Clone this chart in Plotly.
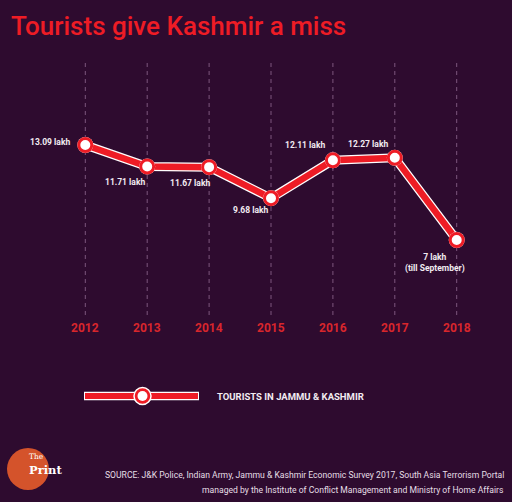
import plotly.graph_objects as go

years = [2012, 2013, 2014, 2015, 2016, 2017, 2018]
year_labels = ["2012", "2013", "2014", "2015", "2016", "2017", "2018"]
tourists_lakh = [13.09, 11.71, 11.67, 9.68, 12.11, 12.27, 7.0]
value_labels = ["13.09 lakh", "11.71 lakh", "11.67 lakh", "9.68 lakh",
                "12.11 lakh", "12.27 lakh", "7 lakh<br>(till September)"]
series_name = "TOURISTS IN JAMMU & KASHMIR"

BG = "#2e0b2f"
RED = "#ee1c25"
COND = "Roboto, sans-serif"

fig = go.Figure()

# white outline under the line
fig.add_trace(go.Scatter(x=years, y=tourists_lakh, mode="lines",
                         line=dict(color="white", width=9), hoverinfo="skip", showlegend=False))
fig.add_trace(go.Scatter(x=years, y=tourists_lakh, mode="lines",
                         line=dict(color=RED, width=6.5), hoverinfo="skip", showlegend=False))
fig.add_trace(go.Scatter(x=years, y=tourists_lakh, mode="markers",
                         marker=dict(size=16, color="white"), hoverinfo="skip", showlegend=False))
fig.add_trace(go.Scatter(x=years, y=tourists_lakh, mode="markers", name=series_name,
                         marker=dict(size=13, color="white", line=dict(color=RED, width=3)),
                         showlegend=False))

# dashed vertical gridlines
for yr in years:
    fig.add_shape(type="line", xref="x", yref="paper", x0=yr, x1=yr, y0=1 - 315 / 502, y1=1 - 60 / 502,
                  line=dict(color="rgba(190,150,190,0.55)", width=1, dash="4px,4px"), layer="below")

# value labels: (xshift, yshift, align)
offsets = [(-35, 3, "right"), (-22, -15, "center"), (-19, -16, "center"), (-20, -12, "center"),
           (-28, 15, "center"), (-27, 14, "center"), (-22, -23, "center")]
for yr, v, lab, (dx, dy, al) in zip(years, tourists_lakh, value_labels, offsets):
    fig.add_annotation(x=yr, y=v, xref="x", yref="y", text=lab, showarrow=False,
                       xshift=dx, yshift=dy, align=al,
                       font=dict(family=COND, size=8.5, color="#f2ecf2", weight="bold"))

# year labels
for yr, lab in zip(years, year_labels):
    fig.add_annotation(x=yr, y=1 - 337 / 502, xref="x", yref="paper", text=lab, showarrow=False,
                       font=dict(family=COND, size=12, color="#d8262c", weight="bold"))

# title
fig.add_annotation(x=9 / 512, y=1 - 26 / 502, xref="paper", yref="paper", xanchor="left", yanchor="middle",
                   text="Tourists give Kashmir a miss", showarrow=False,
                   font=dict(family=COND, size=26, color=RED, weight=500))

# legend (drawn)
fig.add_shape(type="line", xref="paper", yref="paper", x0=84 / 512, x1=199 / 512,
              y0=1 - 396 / 502, y1=1 - 396 / 502, line=dict(color="white", width=8.5))
fig.add_shape(type="line", xref="paper", yref="paper", x0=85 / 512, x1=198 / 512,
              y0=1 - 396 / 502, y1=1 - 396 / 502, line=dict(color=RED, width=6))
fig.add_shape(type="circle", xref="paper", yref="paper", x0=134 / 512, x1=151 / 512,
              y0=1 - 404.5 / 502, y1=1 - 387.5 / 502, fillcolor=RED, line=dict(color="white", width=1.5))
fig.add_shape(type="circle", xref="paper", yref="paper", x0=137.5 / 512, x1=147.5 / 512,
              y0=1 - 401 / 502, y1=1 - 391 / 502, fillcolor="white", line=dict(width=0))
fig.add_annotation(x=215 / 512, y=1 - 396 / 502, xref="paper", yref="paper", xanchor="left", yanchor="middle",
                   text=series_name, showarrow=False,
                   font=dict(family=COND, size=9.5, color="#f2ecf2", weight="bold"))

# logo
fig.add_shape(type="circle", xref="paper", yref="paper", x0=7 / 512, x1=49 / 512,
              y0=1 - 490 / 502, y1=1 - 448 / 502, fillcolor="#d4532b", line=dict(width=0))
fig.add_annotation(x=28 / 512, y=1 - 462 / 502, xref="paper", yref="paper", yanchor="bottom",
                   text="The", showarrow=False, borderpad=0,
                   font=dict(family="DejaVu Serif, serif", size=7.5, color="white"))
fig.add_annotation(x=28 / 512, y=1 - 462 / 502, xref="paper", yref="paper", yanchor="top",
                   text="<b>Print</b>", showarrow=False, borderpad=0,
                   font=dict(family="DejaVu Serif, serif", size=11.5, color="white"))

# source
fig.add_annotation(x=506 / 512, y=1 - 475 / 502, xref="paper", yref="paper", xanchor="right", yanchor="middle",
                   text="SOURCE: J&K Police, Indian Army, Jammu & Kashmir Economic Survey 2017, South Asia Terrorism Portal",
                   showarrow=False, font=dict(family=COND, size=8.6, color="#e6dfe6"))
fig.add_annotation(x=506 / 512, y=1 - 490 / 502, xref="paper", yref="paper", xanchor="right", yanchor="middle",
                   text="managed by the Institute of Conflict Management and Ministry of Home Affairs",
                   showarrow=False, font=dict(family=COND, size=8.6, color="#e6dfe6"))

px_per_year = (456.7 - 85.3) / 6
px_per_lakh = 15.6
fig.update_layout(
    width=512, height=502,
    margin=dict(l=0, r=0, t=0, b=0),
    paper_bgcolor=BG, plot_bgcolor=BG,
    xaxis=dict(range=[2012 - 85.3 / px_per_year, 2018 + (512 - 456.7) / px_per_year],
               visible=False, showgrid=False, zeroline=False, fixedrange=True),
    yaxis=dict(range=[13.09 - (502 - 145) / px_per_lakh, 13.09 + 145 / px_per_lakh],
               visible=False, showgrid=False, zeroline=False, fixedrange=True),
    showlegend=False,
)

fig.write_html("out.html", config={"displayModeBar": False},
               post_script="document.body.style.margin='0';document.body.style.padding='0';"
                           "document.body.style.overflow='hidden';document.body.style.background='" + BG + "';")
